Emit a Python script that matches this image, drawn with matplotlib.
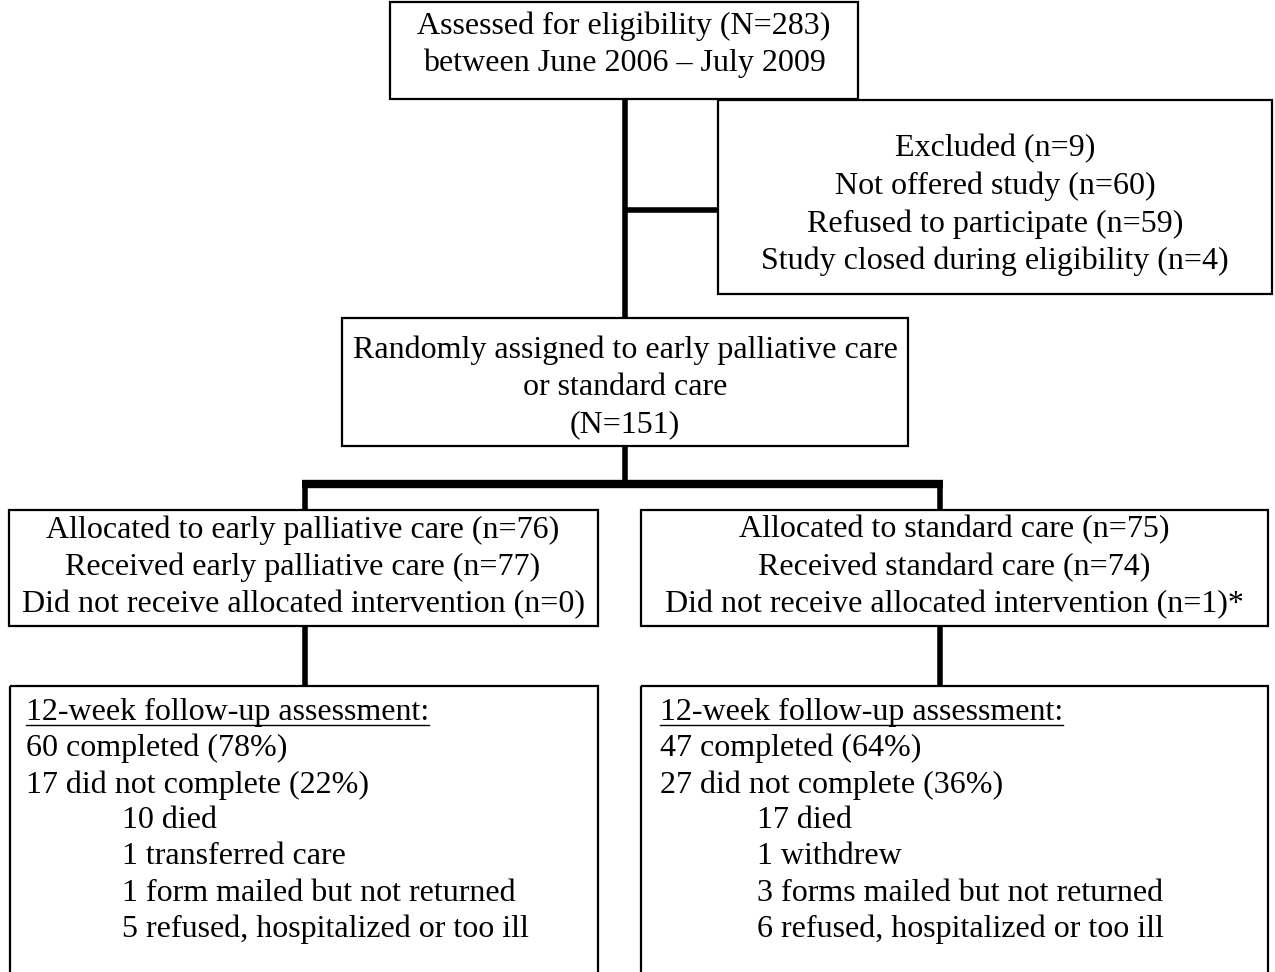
import matplotlib
matplotlib.use('Agg')
import matplotlib.pyplot as plt
from matplotlib.patches import Rectangle

plt.rcParams['font.family'] = ['Liberation Serif', 'DejaVu Serif']

# flowchart content
screened = ['Assessed for eligibility (N=283)', 'between June 2006 \u2013 July 2009']
excluded = ['Excluded (n=9)', 'Not offered study (n=60)',
            'Refused to participate (n=59)', 'Study closed during eligibility (n=4)']
randomized = ['Randomly assigned to early palliative care', 'or standard care', '(N=151)']
alloc_early = ['Allocated to early palliative care (n=76)',
               'Received early palliative care (n=77)',
               'Did not receive allocated intervention (n=0)']
alloc_std = ['Allocated to standard care (n=75)',
             'Received standard care (n=74)',
             'Did not receive allocated intervention (n=1)*']
followup_head = '12-week follow-up assessment:'
followup_early = ['60 completed (78%)', '17 did not complete (22%)']
followup_early_sub = ['10 died', '1 transferred care',
                      '1 form mailed but not returned', '5 refused, hospitalized or too ill']
followup_std = ['47 completed (64%)', '27 did not complete (36%)']
followup_std_sub = ['17 died', '1 withdrew',
                    '3 forms mailed but not returned', '6 refused, hospitalized or too ill']

W, H = 1275, 972
fig = plt.figure(figsize=(W / 100, H / 100), dpi=100)
ax = fig.add_axes([0, 0, 1, 1])
ax.set_xlim(0, W)
ax.set_ylim(H, 0)
ax.axis('off')

FS = 23
LS = 37.5
BOX_LW = 1.6
DY = 2  # small downward nudge of text


def box(x0, y0, x1, y1):
    ax.add_patch(Rectangle((x0, y0), x1 - x0, y1 - y0, fill=False,
                           edgecolor='black', lw=BOX_LW, zorder=3))


def centered_lines(lines, xc, y_first):
    for i, s in enumerate(lines):
        ax.text(xc, y_first + DY + i * LS, s, ha='center', va='center', fontsize=FS, zorder=4)


def line(xs, ys, lw=4):
    ax.plot(xs, ys, color='black', lw=lw, solid_capstyle='butt', zorder=2)


# connectors
line([625, 625], [99, 318])
line([625, 718], [210, 210])
line([625, 625], [446, 484])
line([302, 943], [484, 484], lw=6)
line([305, 305], [484, 510])
line([940, 940], [484, 510])
line([305, 305], [626, 686])
line([940, 940], [626, 686])

# boxes
box(390, 2, 858, 99)
centered_lines(screened, 624, 24)

box(718, 100, 1272, 294)
centered_lines(excluded, 995, 147)

box(342, 318, 908, 446)
centered_lines(randomized, 625, 348)

box(9, 510, 598, 626)
centered_lines(alloc_early, 303, 528)

box(641, 510, 1268, 626)
centered_lines(alloc_std, 954, 528)

# follow-up boxes run off the bottom edge
box(10, 686, 598, 1000)
box(641, 686, 1268, 1000)

fig.canvas.draw()
renderer = fig.canvas.get_renderer()
inv = ax.transData.inverted()

for xl, xi, main, sub in [(26, 122, followup_early, followup_early_sub),
                          (660, 757, followup_std, followup_std_sub)]:
    t = ax.text(xl, 712, followup_head, ha='left', va='center', fontsize=FS, zorder=4)
    bb = t.get_window_extent(renderer)
    (bx0, _), (bx1, _) = inv.transform([(bb.x0, bb.y0), (bb.x1, bb.y1)])
    ax.plot([bx0, bx1], [725, 725], color='black', lw=1.0, zorder=4)
    for i, s in enumerate(main):
        ax.text(xl, 712 + (i + 1) * 36.5, s, ha='left', va='center', fontsize=FS, zorder=4)
    for i, s in enumerate(sub):
        ax.text(xi, 820 + i * 36.5, s, ha='left', va='center', fontsize=FS, zorder=4)

fig.savefig('out.png', dpi=100, facecolor='white')
